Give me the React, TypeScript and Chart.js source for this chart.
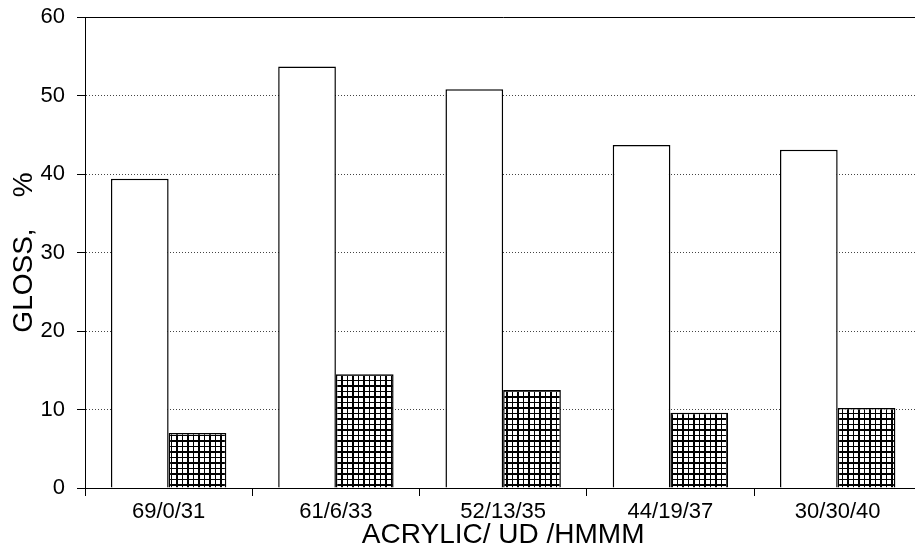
import React, { useEffect, useRef } from "react";
import { Chart, registerables } from "chart.js";

Chart.register(...registerables);

const categories = ["69/0/31", "61/6/33", "52/13/35", "44/19/37", "30/30/40"];
const seriesA = [39.4, 53.7, 50.8, 43.7, 43.1];
const seriesB = [7.0, 14.5, 12.5, 9.6, 10.2];
const yTicks = [0, 10, 20, 30, 40, 50, 60];
const xTitle = "ACRYLIC/ UD /HMMM";
const yTitle = "GLOSS,    %";

const FONT = "'Liberation Sans', Arial, sans-serif";

export default function App() {
  const ref = useRef<HTMLCanvasElement | null>(null);

  useEffect(() => {
    const canvas = ref.current;
    if (!canvas) return;
    const tile = document.createElement("canvas");
    tile.width = 11;
    tile.height = 11;
    const t = tile.getContext("2d")!;
    t.fillStyle = "#fff";
    t.fillRect(0, 0, 11, 11);
    t.fillStyle = "#000";
    t.fillRect(0, 0, 11, 2);
    t.fillRect(0, 6, 11, 1);
    t.fillRect(0, 0, 2, 11);
    t.fillRect(6, 0, 1, 11);
    const ctx2 = canvas.getContext("2d")!;
    const pattern = ctx2.createPattern(tile, "repeat")!;

    const chart = new Chart(canvas, {
      type: "bar",
      data: {
        labels: categories,
        datasets: [
          {
            label: "A",
            data: seriesA,
            backgroundColor: "#ffffff",
            borderColor: "#000",
            borderWidth: 1.5,
            categoryPercentage: 0.69,
            barPercentage: 1,
          },
          {
            label: "B",
            data: seriesB,
            backgroundColor: pattern as any,
            borderColor: "#000",
            borderWidth: 1.5,
            categoryPercentage: 0.69,
            barPercentage: 1,
          },
        ],
      },
      options: {
        responsive: false,
        animation: false,
        layout: { padding: { left: 0, top: 17, right: 8.7, bottom: 0 } },
        plugins: { legend: { display: false }, tooltip: { enabled: false } },
        scales: {
          x: {
            type: "category",
            offset: true,
            afterFit: (s: any) => {
              s.height = 68;
              s.paddingLeft = 0;
              s.paddingRight = 0;
            },
            grid: {
              display: true,
              offset: true,
              drawOnChartArea: false,
              drawTicks: true,
              tickLength: 8,
              tickColor: "#000",
              tickWidth: 1,
            },
            border: { display: true, color: "#000", width: 1 },
            ticks: {
              color: "#000",
              padding: 3,
              maxRotation: 0,
              autoSkip: false,
              font: { family: FONT, size: 22 },
            },
            title: {
              display: true,
              text: xTitle,
              color: "#000",
              font: { family: FONT, size: 28 },
              padding: { top: 0, bottom: 4 },
            },
          },
          y: {
            min: 0,
            max: 60,
            afterFit: (s: any) => {
              s.width = 85;
              s.paddingTop = 0;
              s.paddingBottom = 0;
            },
            afterBuildTicks: (s: any) => {
              s.ticks = yTicks.map((v) => ({ value: v }));
            },
            grid: {
              color: (c: any) => {
                const v = c.tick ? c.tick.value : null;
                if (v === 0) return "rgba(0,0,0,0)";
                if (v === 60) return "#000";
                return "#444";
              },
              lineWidth: 1,
              drawTicks: true,
              tickLength: 8,
              tickColor: "#000",
              tickWidth: 1,
            },
            border: {
              display: true,
              color: "#000",
              width: 1,
              dash: (c: any) => (c.tick && c.tick.value !== 60 ? [1, 2] : []),
            } as any,
            ticks: {
              color: "#000",
              padding: 12,
              font: { family: FONT, size: 22 },
            },
            title: {
              display: true,
              text: yTitle,
              color: "#000",
              font: { family: FONT, size: 28 },
              padding: { top: 7, bottom: 0 },
            },
          },
        },
      },
    });
    return () => chart.destroy();
  }, []);

  return (
    <div
      style={{
        position: "fixed",
        left: 0,
        top: 0,
        width: 915,
        height: 556,
        overflow: "hidden",
        background: "#fff",
      }}
    >
      <canvas ref={ref} width={930} height={556} style={{ display: "block" }} />
    </div>
  );
}
